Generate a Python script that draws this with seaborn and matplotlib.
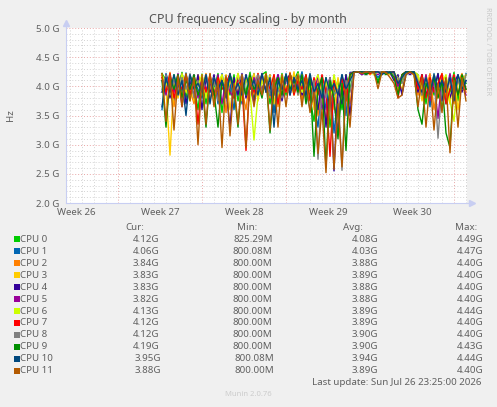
import numpy as np
import pandas as pd
import seaborn as sns
import matplotlib.pyplot as plt
from matplotlib.patches import Rectangle
from matplotlib.lines import Line2D

# ---- data (GHz), one sample every 8 hours ----
sample_start = 8.0        # days from left edge of the graph
sample_step = 1.0 / 3.0   # 8 hours

cpu_names = ["CPU %d" % i for i in range(12)]
cpu_colors = ["#00CC00", "#0066B3", "#FF8000", "#FFCC00", "#330099", "#990099",
              "#CCFF00", "#FF0000", "#808080", "#008F00", "#00487D", "#B35A00"]

cpu0 = [4.22, 4.10, 3.85, 4.20, 3.92, 4.24, 3.80, 4.18, 4.05, 3.60,
        4.21, 3.70, 4.15, 3.95, 4.22, 3.55, 4.10, 3.85, 4.20, 3.75,
        4.12, 3.90, 4.24, 3.80, 4.05, 4.20, 4.25, 3.70, 4.15, 3.90,
        4.22, 3.85, 4.20, 4.10, 4.25, 3.95, 4.20, 3.80, 3.40, 4.05,
        3.75, 4.15, 3.30, 3.90, 4.10, 3.60, 4.20, 3.95,
        4.25, 4.24, 4.25, 4.22, 4.25, 4.24, 4.10, 4.25, 4.24, 4.25, 4.20, 3.95, 4.10, 4.25, 4.24, 4.25,
        3.95, 4.20, 3.70, 4.15, 3.85, 4.22, 3.60, 4.10, 3.90, 4.24, 3.75, 4.20, 4.05]
cpu1 = [3.60, 4.22, 4.00, 3.75, 4.20, 3.90, 4.23, 3.85, 4.15, 3.95,
        3.80, 4.20, 3.90, 4.18, 3.70, 4.22, 3.85, 4.05, 3.60, 4.20,
        3.70, 4.15, 3.95, 4.22, 3.85, 4.10, 3.95, 4.20, 3.55, 4.15,
        3.80, 4.22, 3.95, 4.18, 4.00, 4.25, 3.85, 4.15, 3.70, 3.30,
        4.10, 3.60, 4.15, 3.20, 3.85, 4.20, 3.50, 4.24,
        4.24, 4.25, 4.20, 4.25, 4.24, 4.25, 4.15, 4.24, 4.25, 4.22, 4.25, 4.05, 3.90, 4.20, 4.25, 4.24,
        4.20, 3.80, 4.15, 3.65, 4.22, 3.90, 4.10, 3.70, 4.20, 3.85, 4.15, 3.95, 4.22]
cpu2 = [4.20, 3.90, 4.24, 3.65, 4.10, 3.85, 4.20, 3.95, 3.70, 4.18,
        3.95, 4.22, 3.75, 4.10, 3.90, 4.20, 3.55, 4.15, 3.85, 4.22,
        3.95, 3.60, 4.20, 3.85, 4.22, 3.95, 4.18, 3.80, 4.20, 3.65,
        4.15, 3.90, 4.24, 3.95, 4.20, 3.75, 4.15, 3.90, 4.10, 3.50,
        4.00, 3.40, 3.95, 4.10, 3.55, 3.90, 4.15, 3.70,
        4.25, 4.25, 4.24, 4.25, 4.20, 4.25, 4.24, 4.25, 4.22, 4.25, 4.24, 3.90, 4.15, 4.25, 4.24, 4.20,
        3.85, 4.10, 3.95, 4.22, 3.60, 4.05, 4.20, 3.80, 4.15, 3.70, 4.05, 4.22, 3.90]
cpu3 = [4.15, 3.95, 2.82, 4.10, 3.80, 4.22, 3.90, 4.15, 3.75, 4.20,
        4.05, 3.85, 4.22, 3.70, 4.15, 3.95, 4.20, 3.60, 4.10, 3.90,
        4.20, 3.85, 4.00, 4.22, 3.75, 4.15, 3.90, 4.20, 3.70, 4.10,
        3.85, 4.20, 3.90, 4.25, 3.85, 4.10, 3.95, 4.20, 3.60, 4.15,
        3.70, 4.05, 3.85, 3.60, 4.15, 3.80, 3.95, 4.20,
        4.25, 4.24, 4.25, 4.25, 4.24, 4.22, 4.25, 4.25, 4.24, 4.20, 4.25, 4.10, 3.95, 4.24, 4.25, 4.25,
        4.15, 3.75, 4.20, 3.90, 4.05, 3.80, 4.22, 3.95, 3.70, 4.20, 3.60, 4.10, 4.20]
cpu4 = [3.90, 4.20, 3.80, 4.15, 3.95, 4.22, 3.70, 4.10, 3.85, 4.20,
        3.60, 4.15, 3.90, 4.20, 3.80, 4.05, 3.95, 3.30, 4.15, 3.85,
        4.22, 3.80, 4.10, 3.70, 4.20, 3.90, 4.22, 3.85, 3.95, 4.20,
        3.75, 4.10, 4.20, 3.95, 4.22, 3.85, 3.95, 4.15, 3.90, 3.60,
        4.15, 3.30, 4.10, 2.55, 3.95, 3.70, 4.20, 3.50,
        4.24, 4.25, 4.25, 4.20, 4.25, 4.24, 4.25, 4.22, 4.25, 4.24, 4.10, 4.20, 3.85, 4.25, 4.20, 4.25,
        3.90, 4.20, 3.85, 4.10, 3.95, 4.22, 3.75, 4.15, 3.80, 4.05, 4.20, 3.90, 4.10]
cpu5 = [4.10, 3.85, 4.20, 3.90, 4.22, 3.65, 4.15, 3.95, 4.20, 3.80,
        4.15, 3.95, 4.05, 3.85, 4.20, 3.70, 4.15, 3.90, 3.80, 4.20,
        3.85, 4.20, 3.75, 4.15, 3.95, 4.22, 3.90, 4.05, 3.85, 4.20,
        3.95, 4.20, 3.85, 4.15, 3.95, 4.20, 3.80, 4.10, 3.85, 4.20,
        3.60, 3.95, 4.15, 3.70, 3.25, 4.10, 3.80, 4.22,
        4.25, 4.25, 4.20, 4.25, 4.25, 4.24, 4.20, 4.25, 4.24, 4.25, 4.22, 4.00, 4.20, 4.25, 4.25, 4.24,
        4.00, 3.90, 4.20, 3.75, 4.10, 3.45, 4.15, 3.90, 4.22, 3.80, 4.15, 4.05, 3.85]
cpu6 = [4.20, 4.05, 3.90, 4.15, 3.85, 4.22, 3.95, 3.75, 4.15, 4.00,
        4.20, 3.80, 4.15, 3.95, 4.05, 4.20, 3.85, 4.10, 3.95, 4.22,
        3.75, 4.15, 3.90, 3.08, 3.85, 4.05, 4.22, 3.95, 4.15, 3.80,
        4.20, 3.95, 4.10, 3.85, 4.22, 3.90, 4.15, 3.95, 4.05, 4.20,
        3.85, 4.10, 3.75, 4.20, 3.90, 4.05, 3.85, 4.15,
        4.24, 4.25, 4.25, 4.24, 4.25, 4.20, 4.25, 4.24, 4.25, 4.25, 4.22, 4.15, 4.05, 4.25, 4.24, 4.25,
        4.20, 3.95, 4.10, 3.85, 4.20, 3.90, 4.05, 4.20, 3.75, 3.40, 4.15, 3.95, 4.20]
cpu7 = [4.15, 3.90, 4.22, 3.80, 4.10, 3.95, 4.20, 3.85, 4.15, 3.35,
        4.10, 3.90, 4.20, 3.85, 4.15, 3.95, 4.05, 4.22, 3.80, 4.10,
        4.00, 2.90, 4.15, 3.90, 4.22, 3.85, 4.15, 3.95, 4.20, 3.70,
        4.15, 3.90, 4.22, 3.85, 4.10, 3.95, 4.20, 3.75, 4.15, 3.85,
        4.20, 3.90, 2.80, 4.10, 3.85, 4.15, 3.75, 4.20,
        4.25, 4.24, 4.25, 4.25, 4.22, 4.25, 4.24, 4.25, 4.25, 4.24, 4.25, 3.80, 4.20, 4.25, 4.24, 4.25,
        3.95, 4.20, 3.80, 4.15, 3.90, 4.05, 4.22, 3.70, 3.95, 4.20, 3.85, 4.15, 3.95]
cpu8 = [3.95, 4.20, 3.85, 4.10, 3.90, 4.15, 3.95, 4.22, 3.80, 4.10,
        3.85, 4.20, 3.95, 4.15, 3.75, 4.10, 3.90, 4.20, 3.85, 4.05,
        4.20, 3.85, 4.10, 3.95, 4.20, 3.90, 4.15, 3.85, 4.10, 3.95,
        3.80, 4.20, 3.90, 4.15, 3.85, 4.20, 3.90, 3.60, 4.10, 2.75,
        4.05, 3.80, 4.15, 3.85, 3.95, 2.56, 4.10, 3.90,
        4.25, 4.25, 4.24, 4.25, 4.25, 4.22, 4.25, 4.25, 4.24, 4.25, 4.20, 4.15, 4.05, 4.24, 4.25, 4.25,
        4.10, 3.85, 4.15, 3.90, 4.20, 3.11, 4.05, 3.95, 4.15, 3.85, 4.10, 3.95, 4.20]
cpu9 = [4.10, 3.30, 4.15, 3.95, 4.20, 3.80, 4.10, 3.95, 4.20, 3.85,
        4.05, 3.30, 4.15, 3.90, 3.30, 4.10, 3.85, 4.20, 3.95, 3.30,
        4.10, 3.85, 4.20, 3.95, 4.05, 3.80, 4.20, 3.20, 3.95, 4.15,
        3.85, 4.20, 3.95, 4.10, 3.90, 4.20, 3.70, 4.15, 2.80, 3.95,
        4.15, 2.60, 4.10, 3.80, 3.10, 4.05, 2.90, 4.20,
        4.25, 4.24, 4.25, 4.20, 4.25, 4.25, 4.05, 4.25, 4.20, 4.25, 4.15, 3.85, 4.20, 4.25, 4.25, 4.24,
        3.60, 3.35, 4.05, 3.90, 4.15, 3.80, 4.10, 3.20, 2.95, 4.15, 3.85, 4.20, 3.95]
cpu10 = [3.65, 4.15, 3.90, 4.20, 3.85, 4.10, 3.50, 4.20, 3.95, 4.05,
         3.90, 4.20, 3.70, 4.15, 3.95, 4.10, 3.80, 4.22, 3.90, 4.05,
         3.85, 4.20, 3.95, 4.10, 3.85, 4.22, 3.90, 4.15, 3.30, 4.10,
         3.95, 4.20, 3.85, 4.15, 3.95, 4.10, 3.85, 4.22, 3.90, 4.05,
         3.80, 4.15, 3.90, 4.05, 3.85, 4.20, 3.95, 4.10,
         4.25, 4.25, 4.24, 4.25, 4.25, 4.24, 4.25, 4.20, 4.25, 4.24, 4.25, 4.05, 4.15, 4.25, 4.24, 4.25,
         4.05, 3.90, 4.15, 3.85, 4.20, 3.95, 4.10, 3.90, 4.15, 3.75, 4.20, 3.95, 4.10]
cpu11 = [4.22, 3.40, 4.20, 3.25, 4.18, 3.65, 4.22, 3.75, 4.15, 3.00,
         4.20, 3.35, 4.22, 3.65, 4.10, 2.95, 4.18, 3.15, 4.05, 3.35,
         4.20, 2.95, 4.15, 3.65, 4.10, 3.85, 4.22, 3.25, 4.15, 3.30,
         4.20, 3.65, 4.22, 3.90, 4.20, 3.65, 4.15, 3.55, 3.90, 2.85,
         3.60, 2.52, 3.95, 2.58, 3.70, 2.62, 3.95, 3.30,
         4.24, 4.25, 4.22, 4.25, 4.24, 4.25, 3.96, 4.25, 4.24, 4.15, 4.05, 3.80, 3.85, 4.20, 4.25, 4.20,
         3.65, 4.15, 3.30, 4.10, 3.25, 4.05, 3.55, 4.15, 2.86, 4.10, 3.30, 4.15, 3.75]

series = [cpu0, cpu1, cpu2, cpu3, cpu4, cpu5, cpu6, cpu7, cpu8, cpu9, cpu10, cpu11]

cur_vals = ["4.12G", "4.06G", "3.84G", "3.83G", "3.83G", "3.82G",
            "4.13G", "4.12G", "4.12G", "4.19G", "3.95G", "3.88G"]
min_vals = ["825.29M", "800.08M", "800.00M", "800.00M", "800.00M", "800.00M",
            "800.00M", "800.00M", "800.00M", "800.00M", "800.08M", "800.00M"]
avg_vals = ["4.08G", "4.03G", "3.88G", "3.89G", "3.88G", "3.88G",
            "3.89G", "3.89G", "3.90G", "3.90G", "3.94G", "3.89G"]
max_vals = ["4.49G", "4.47G", "4.40G", "4.40G", "4.40G", "4.40G",
            "4.44G", "4.40G", "4.40G", "4.43G", "4.44G", "4.40G"]

week_labels = ["Week 26", "Week 27", "Week 28", "Week 29", "Week 30"]
first_week_line = 4.33   # day offset of the first week boundary

rows = []
for name, vals in zip(cpu_names, series):
    for i, v in enumerate(vals):
        rows.append((sample_start + i * sample_step, v, name))
df = pd.DataFrame(rows, columns=["day", "ghz", "cpu"])

# ---- figure ----
W, H = 497, 407
plt.rcParams["font.family"] = ["Noto Sans", "DejaVu Sans"]
txt = "#606060"

fig = plt.figure(figsize=(W / 100, H / 100), dpi=100, facecolor="#F0F0F0")
ax = fig.add_axes([66 / W, 1 - 203 / H, (467 - 66) / W, (203 - 28) / H])
ax.set_facecolor("white")

sns.lineplot(data=df, x="day", y="ghz", hue="cpu", hue_order=cpu_names,
             palette=cpu_colors, legend=False, linewidth=1.0,
             estimator=None, ax=ax)

xmax = (467 - 66) / 12.0
ax.set_xlim(0, xmax)
ax.set_ylim(2.0, 5.0)

week_lines = [first_week_line + 7 * k for k in range(5)]
day_lines = [first_week_line + k for k in range(-4, 30)
             if 0 < first_week_line + k < xmax and k % 7 != 0]
ax.set_xticks(week_lines)
ax.set_xticklabels([])
ax.set_xticks(day_lines, minor=True)

yt = np.arange(2.0, 5.01, 0.5)
ax.set_yticks(yt)
ax.set_yticklabels(["%.1f G" % v for v in yt])
ax.set_yticks([v for v in np.arange(2.0, 5.0, 0.1) if abs(v * 2 - round(v * 2)) > 1e-6], minor=True)

ax.grid(which="minor", color="#d4d4d4", linestyle=(0, (1, 2)), linewidth=0.7)
ax.grid(which="major", color="#e8a6a6", linestyle=(0, (1, 2)), linewidth=0.7)
ax.set_axisbelow(True)
ax.tick_params(which="both", length=0, labelsize=7, labelcolor=txt, pad=5)
ax.set_xlabel("")
ax.set_ylabel("")

axis_col = "#c8cef2"
for s in ["top", "right"]:
    ax.spines[s].set_visible(False)
for s in ["left", "bottom"]:
    ax.spines[s].set_color(axis_col)
    ax.spines[s].set_linewidth(0.8)
ax.add_line(Line2D([0, 0], [1, 1.025], transform=ax.transAxes, color=axis_col,
                   lw=0.8, clip_on=False))
ax.add_line(Line2D([1, 1.01], [0, 0], transform=ax.transAxes, color=axis_col,
                   lw=0.8, clip_on=False))
ax.plot([0], [1.03], marker="^", ms=4, color=axis_col, transform=ax.transAxes, clip_on=False)
ax.plot([1.012], [0], marker=">", ms=4, color=axis_col, transform=ax.transAxes, clip_on=False)

for k, lab in enumerate(week_labels):
    ax.text(week_lines[k] - 3.5, -0.057, lab, transform=ax.get_xaxis_transform(),
            ha="center", va="center", fontsize=7, color=txt)


def fx(px):
    return px / W


def fy(py):
    return 1 - py / H


fig.text(fx(248), fy(20), "CPU frequency scaling - by month", ha="center", va="center",
         fontsize=9, color="#555555")
fig.text(fx(10), fy(115), "Hz", rotation=90, ha="center", va="center", fontsize=7, color=txt)
fig.text(fx(487), fy(51), "RRDTOOL / TOBI OETIKER", rotation=270, ha="center", va="center",
         fontsize=5.2, color="#c8c8c8")

# legend table
fig.text(fx(144), fy(227.5), "Cur:", ha="right", va="center", fontsize=7, color=txt)
fig.text(fx(257), fy(227.5), "Min:", ha="right", va="center", fontsize=7, color=txt)
fig.text(fx(363), fy(227.5), "Avg:", ha="right", va="center", fontsize=7, color=txt)
fig.text(fx(477), fy(227.5), "Max:", ha="right", va="center", fontsize=7, color=txt)
for k, name in enumerate(cpu_names):
    y = 239.3 + 11.95 * k
    shift = 2.5 if k >= 10 else 0
    fig.patches.append(Rectangle((fx(14), fy(y + 3)), 6 / W, 6 / H, transform=fig.transFigure,
                                 facecolor=cpu_colors[k], edgecolor="none"))
    fig.text(fx(20.5), fy(y), name, ha="left", va="center", fontsize=7, color=txt)
    fig.text(fx(159 + shift), fy(y), cur_vals[k], ha="right", va="center", fontsize=7, color=txt)
    fig.text(fx(272.5 + shift * 0.6), fy(y), min_vals[k], ha="right", va="center", fontsize=7, color=txt)
    fig.text(fx(378), fy(y), avg_vals[k], ha="right", va="center", fontsize=7, color=txt)
    fig.text(fx(483), fy(y), max_vals[k], ha="right", va="center", fontsize=7, color=txt)

fig.text(fx(482), fy(382.5), "Last update: Sun Jul 26 23:25:00 2026", ha="right", va="center",
         fontsize=7, color=txt)
fig.text(fx(248), fy(395), "Munin 2.0.76", ha="center", va="center", fontsize=5.5, color="#cccccc")

fig.savefig("out.png", dpi=100, facecolor=fig.get_facecolor())
